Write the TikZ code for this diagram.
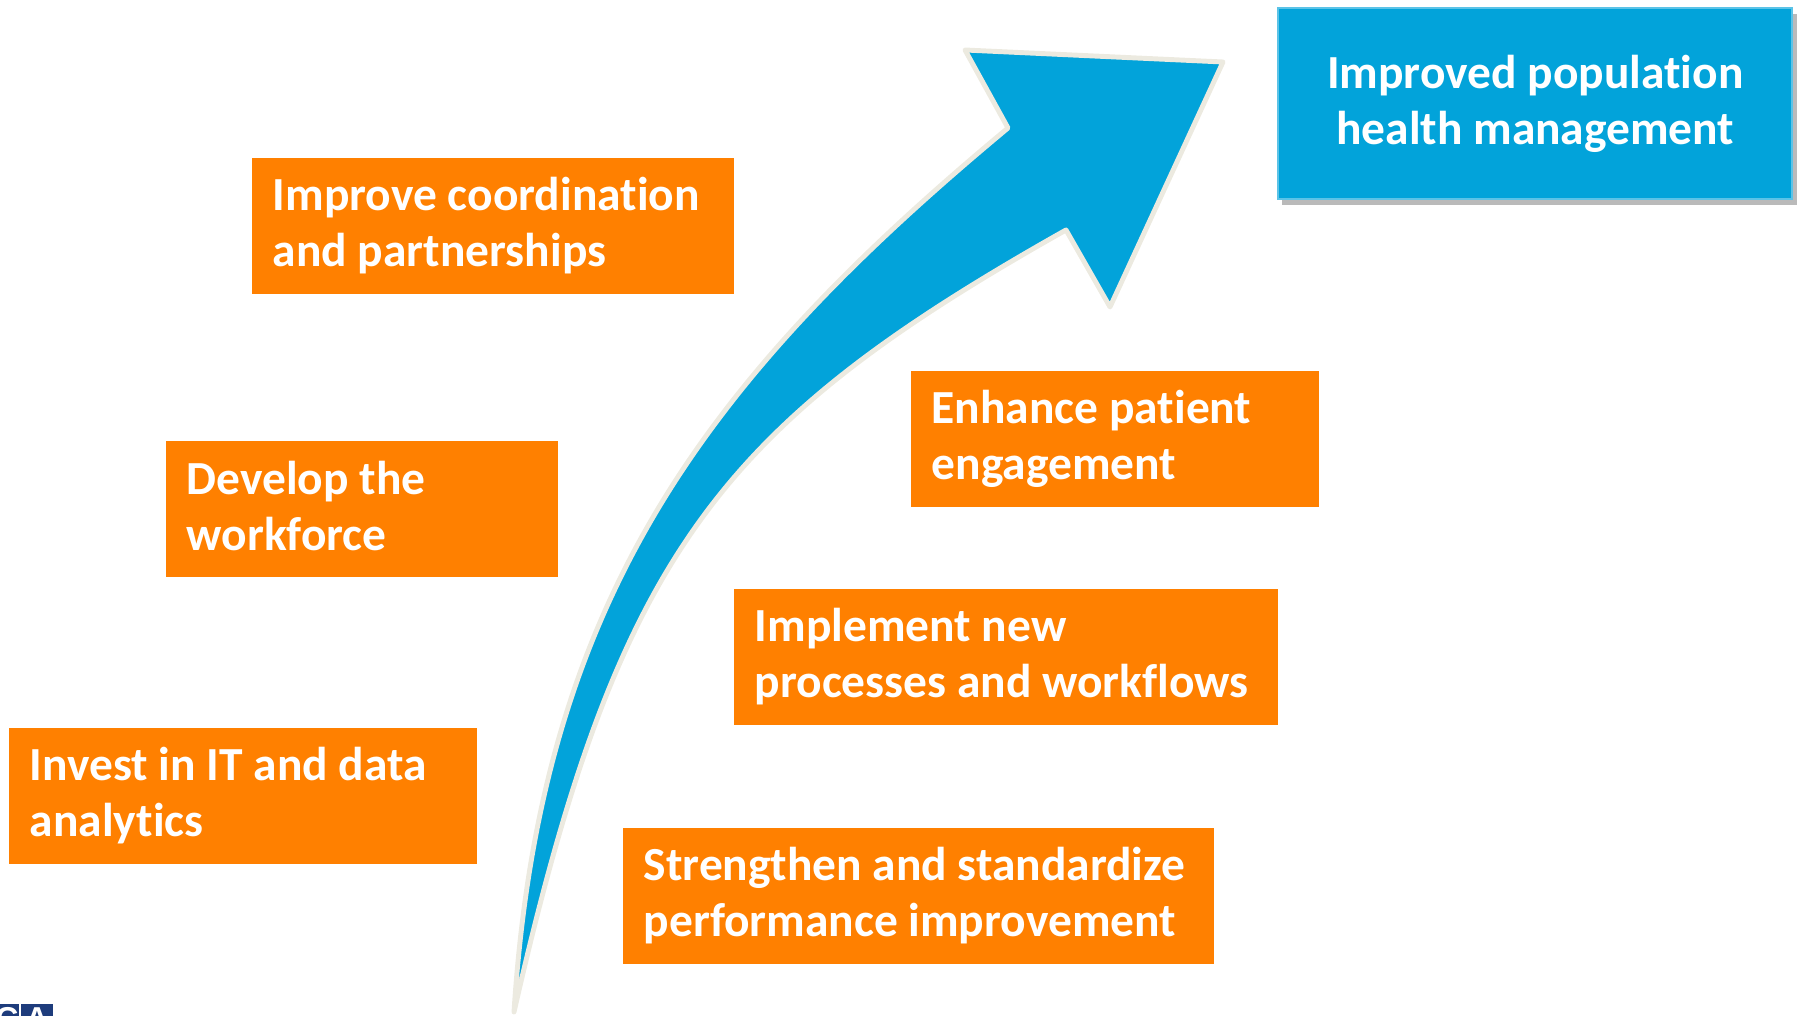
\documentclass[tikz,border=0pt]{standalone}
\usepackage{fontspec}
\setmainfont{Carlito}[Ligatures=NoCommon]
\newfontfamily\logofont{Liberation Sans}
\usetikzlibrary{shadows}

\definecolor{stepOrange}{HTML}{FF8000}
\definecolor{arrowBlue}{HTML}{02A3DA}
\definecolor{arrowRim}{HTML}{ECEAE0}
\definecolor{logoBlue}{HTML}{1E3C7C}

\newcommand\boxstrut{\rule[-1.9pt]{0pt}{11.1pt}}

\tikzset{
  action/.style={fill=stepOrange, text=white, font=\bfseries\fontsize{13.5}{15.9}\selectfont,
    align=flush left, anchor=north west, inner xsep=6pt, inner ysep=0pt, minimum height=1.36cm,
    execute at begin node=\boxstrut, execute at end node=\boxstrut},
  outcome/.style={fill=arrowBlue, draw=arrowBlue!65!white, line width=0.6pt, text=white,
    font=\bfseries\fontsize{13.5}{15.9}\selectfont, align=flush center, anchor=north west,
    minimum width=5.14cm, minimum height=1.91cm, inner sep=0pt,
    execute at begin node=\boxstrut, execute at end node=\boxstrut,
    drop shadow={shadow xshift=1.2pt, shadow yshift=-1.6pt, fill=black!45, opacity=0.6}},
  logo/.style={fill=logoBlue, text=white, font=\logofont\bfseries\fontsize{9}{9}\selectfont,
    anchor=north, inner sep=0pt, minimum height=0.3cm}
}

\begin{document}
\begin{tikzpicture}[x=0.01cm, y=-0.01cm]
  \useasboundingbox (0,0) rectangle (1800,1016);
  \clip (0,0) rectangle (1800,1016);

  % rising arrow
  \draw[arrowRim, line width=1.4pt, line join=round, fill=arrowBlue]
    (514,1012) .. controls (540,605) and (700,384) .. (1008,128)
    -- (965,50) -- (1223,62) -- (1110,307) -- (1066,230)
    .. controls (718,426) and (618,554) .. (514,1012) -- cycle;

  \node[outcome] (goal) at (1277,7) {Improved population\\health management};

  \node[action, text width=4.40cm] (coord) at (251,157) {Improve coordination\\and partnerships};
  \node[action, text width=3.50cm] (workforce) at (165,440) {Develop the\\workforce};
  \node[action, text width=4.26cm] (itdata) at (8,727) {Invest in IT and data\\analytics};
  \node[action, text width=3.66cm] (engage) at (910,370) {Enhance patient\\engagement};
  \node[action, text width=5.02cm] (process) at (733,588) {Implement new\\processes and workflows};
  \node[action, text width=5.49cm] (perform) at (622,827) {Strengthen and standardize\\performance improvement};

  \node[logo, minimum width=0.24cm] (logoC) at (7,1003) {C};
  \node[logo, minimum width=0.32cm] (logoA) at (37,1003) {A};
\end{tikzpicture}
\end{document}
